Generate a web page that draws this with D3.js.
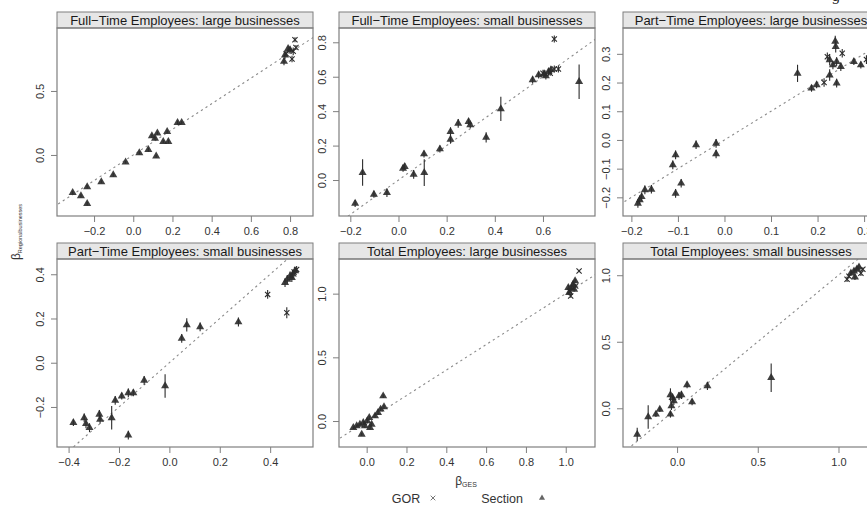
<!DOCTYPE html>
<html><head><meta charset="utf-8">
<script src="https://cdn.jsdelivr.net/npm/d3@7"></script>
<style>body{margin:0;background:#fff}svg{display:block}</style>
</head><body><svg id="c" width="867" height="505"></svg>
<script>
// ---- data: [beta_GES, beta_Regional, halfErr, type]  type S=Section, G=GOR
const panelTitles = [
  "Full\u2212Time Employees: large businesses",
  "Full\u2212Time Employees: small businesses",
  "Part\u2212Time Employees: large businesses",
  "Part\u2212Time Employees: small businesses",
  "Total Employees: large businesses",
  "Total Employees: small businesses"
];
const ftLarge = [
  [-0.309,-0.294,0.012,"S"],[-0.267,-0.32,0.012,"S"],[-0.235,-0.25,0.012,"S"],[-0.235,-0.38,0.015,"S"],
  [-0.163,-0.21,0.012,"S"],[-0.102,-0.156,0.015,"S"],[-0.039,-0.057,0.012,"S"],[0.031,0.016,0.012,"S"],
  [0.077,0.041,0.015,"S"],[0.117,-0.01,0.012,"S"],[0.095,0.148,0.015,"S"],[0.111,0.13,0.015,"S"],
  [0.123,0.17,0.012,"S"],[0.153,0.104,0.012,"S"],[0.179,0.104,0.015,"S"],[0.173,0.182,0.012,"S"],
  [0.226,0.253,0.015,"S"],[0.247,0.253,0.012,"S"],[0.774,0.78,0.03,"S"],[0.769,0.73,0.03,"S"],
  [0.80,0.82,0.025,"S"],[0.79,0.83,0.02,"S"],
  [0.816,0.81,0.03,"G"],[0.825,0.90,0.02,"G"],[0.81,0.75,0.025,"G"],[0.78,0.79,0.02,"G"],[0.83,0.84,0.02,"G"]
];
const ftSmall = [
  [-0.18,-0.136,0.02,"S"],[-0.149,0.043,0.077,"S"],[-0.102,-0.083,0.02,"S"],[-0.048,-0.074,0.025,"S"],
  [0.019,0.068,0.02,"S"],[0.026,0.077,0.02,"S"],[0.063,0.033,0.025,"S"],[0.106,0.151,0.02,"S"],
  [0.107,0.043,0.078,"S"],[0.172,0.18,0.02,"S"],[0.216,0.281,0.025,"S"],[0.216,0.236,0.025,"S"],
  [0.248,0.329,0.025,"S"],[0.291,0.339,0.02,"S"],[0.298,0.32,0.02,"S"],[0.364,0.248,0.03,"S"],
  [0.425,0.413,0.07,"S"],[0.557,0.581,0.02,"S"],[0.582,0.61,0.02,"S"],[0.605,0.616,0.02,"S"],
  [0.612,0.604,0.02,"S"],[0.623,0.629,0.02,"S"],[0.633,0.639,0.02,"S"],[0.75,0.571,0.1,"S"],
  [0.647,0.645,0.02,"G"],[0.664,0.645,0.02,"G"],[0.647,0.819,0.02,"G"],[0.6,0.62,0.02,"G"],[0.63,0.62,0.015,"G"]
];
const ptLarge = [
  [-0.186,-0.221,0.015,"S"],[-0.182,-0.209,0.015,"S"],[-0.178,-0.198,0.015,"S"],[-0.171,-0.174,0.015,"S"],
  [-0.157,-0.172,0.015,"S"],[-0.111,-0.087,0.015,"S"],[-0.105,-0.052,0.015,"S"],[-0.105,-0.186,0.015,"S"],
  [-0.093,-0.151,0.015,"S"],[-0.061,-0.017,0.015,"S"],[-0.018,-0.012,0.015,"S"],[-0.018,-0.049,0.015,"S"],
  [0.157,0.232,0.03,"S"],[0.187,0.18,0.012,"S"],[0.198,0.192,0.012,"S"],[0.226,0.226,0.02,"S"],
  [0.226,0.279,0.02,"S"],[0.238,0.343,0.02,"S"],[0.239,0.325,0.02,"S"],[0.241,0.273,0.015,"S"],
  [0.241,0.198,0.015,"S"],[0.25,0.255,0.015,"S"],[0.278,0.273,0.012,"S"],[0.293,0.261,0.012,"S"],
  [0.233,0.261,0.015,"S"],
  [0.214,0.2,0.015,"G"],[0.221,0.29,0.015,"G"],[0.253,0.302,0.015,"G"],[0.305,0.28,0.015,"G"]
];
const ptSmall = [
  [-0.381,-0.271,0.015,"S"],[-0.338,-0.249,0.02,"S"],[-0.331,-0.276,0.02,"S"],[-0.317,-0.294,0.02,"S"],
  [-0.278,-0.234,0.02,"S"],[-0.275,-0.256,0.02,"S"],[-0.229,-0.249,0.053,"S"],[-0.215,-0.17,0.02,"S"],
  [-0.189,-0.151,0.015,"S"],[-0.163,-0.136,0.02,"S"],[-0.143,-0.136,0.015,"S"],[-0.163,-0.327,0.02,"S"],
  [-0.1,-0.08,0.02,"S"],[-0.017,-0.105,0.053,"S"],[0.049,0.11,0.02,"S"],[0.069,0.171,0.03,"S"],
  [0.122,0.162,0.02,"S"],[0.274,0.184,0.02,"S"],[0.459,0.362,0.02,"S"],[0.468,0.377,0.02,"S"],
  [0.479,0.392,0.02,"S"],[0.49,0.4,0.02,"S"],[0.499,0.415,0.015,"S"],[0.486,0.385,0.02,"S"],
  [0.39,0.309,0.02,"G"],[0.466,0.226,0.025,"G"],[0.505,0.422,0.015,"G"],[0.495,0.41,0.015,"G"]
];
const totLarge = [
  [-0.067,-0.052,0.01,"S"],[-0.05,-0.039,0.01,"S"],[-0.034,-0.026,0.01,"S"],[-0.025,-0.105,0.01,"S"],
  [-0.017,-0.013,0.015,"S"],[-0.009,-0.039,0.015,"S"],[0.003,0,0.02,"S"],[0.013,0.026,0.015,"S"],
  [0.017,-0.052,0.015,"S"],[0.025,-0.026,0.015,"S"],[0.042,0.039,0.015,"S"],[0.057,0.065,0.015,"S"],
  [0.07,0.092,0.015,"S"],[0.087,0.11,0.015,"S"],[0.083,0.196,0.015,"S"],[1.017,1.008,0.02,"S"],
  [1.03,1.047,0.02,"S"],[1.037,1.073,0.02,"S"],[1.042,1.034,0.02,"S"],[1.047,1.1,0.015,"S"],[1.013,1.047,0.02,"S"],
  [1.025,0.982,0.015,"G"],[1.067,1.178,0.01,"G"],[1.05,1.06,0.015,"G"],[1.02,1.02,0.015,"G"]
];
const totSmall = [
  [-0.247,-0.196,0.05,"S"],[-0.179,-0.065,0.088,"S"],[-0.131,-0.045,0.02,"S"],[-0.107,-0.008,0.02,"S"],
  [-0.041,-0.045,0.025,"S"],[-0.035,0.017,0.03,"S"],[-0.028,0.08,0.03,"S"],[-0.041,0.1,0.05,"S"],
  [-0.02,0.055,0.03,"S"],[0.012,0.092,0.03,"S"],[0.027,0.1,0.03,"S"],[0.062,0.175,0.025,"S"],
  [0.093,0.047,0.025,"S"],[0.188,0.168,0.03,"S"],[0.583,0.23,0.107,"S"],[1.077,1.015,0.02,"S"],
  [1.096,1.03,0.02,"S"],[1.114,1.045,0.02,"S"],[1.127,1.06,0.02,"S"],[1.102,0.985,0.02,"S"],
  [1.053,0.97,0.02,"G"],[1.139,1.015,0.02,"G"],[1.065,0.992,0.015,"G"],[1.151,1.045,0.015,"G"]
];
const xDomains = [[-0.389,0.917],[-0.247,0.816],[-0.218,0.332],[-0.446,0.57],[-0.139,1.147],[-0.335,1.251]];
const yDomains = [[-0.477,0.992],[-0.209,0.883],[-0.265,0.39],[-0.381,0.469],[-0.204,1.272],[-0.291,1.122]];
const xTicks = [[-0.2,0,0.2,0.4,0.6,0.8],[-0.2,0,0.2,0.4,0.6],[-0.2,-0.1,0,0.1,0.2,0.3],[-0.4,-0.2,0,0.2,0.4],[0,0.2,0.4,0.6,0.8,1.0],[0,0.5,1.0]];
const yTicks = [[0,0.5],[0,0.2,0.4,0.6,0.8],[-0.2,-0.1,0,0.1,0.2,0.3],[-0.2,0,0.2,0.4],[0,0.5,1.0],[0,0.5,1.0]];
const legendLabels = ["GOR","Section"];

// ---- drawing
const panelData = [ftLarge, ftSmall, ptLarge, ptSmall, totLarge, totSmall];
const svg = d3.select("#c");
const colX = [57, 339, 623], rowY = [12, 243];
const W = 256, stripH = 16, H = 188;
const ink = "#2b2b2b", frame = "#7f7f7f";
const fmt = v => d3.format(".1f")(v).replace("-", "\u2212");
const defs = svg.append("defs");

panelData.forEach((data, i) => {
  const gx = colX[i % 3], gy = rowY[Math.floor(i / 3)];
  const g = svg.append("g").attr("transform", `translate(${gx},${gy})`);
  // strip
  g.append("rect").attr("x", 0).attr("y", 0).attr("width", W).attr("height", stripH)
    .attr("fill", "#e6e6e6").attr("stroke", frame).attr("stroke-width", 1);
  g.append("text").attr("x", W / 2).attr("y", stripH / 2 + 4.6).attr("text-anchor", "middle")
    .attr("font-family", "Liberation Sans, Arial, sans-serif").attr("font-size", 13).attr("fill", "#1a1a1a")
    .text(panelTitles[i]);
  const pg = g.append("g").attr("transform", `translate(0,${stripH})`);
  const x = d3.scaleLinear().domain(xDomains[i]).range([0, W]);
  const y = d3.scaleLinear().domain(yDomains[i]).range([H, 0]);
  const cid = "clip" + i;
  defs.append("clipPath").attr("id", cid).append("rect").attr("width", W).attr("height", H);
  // axes
  const xa = pg.append("g").attr("transform", `translate(0,${H})`)
    .call(d3.axisBottom(x).tickValues(xTicks[i]).tickFormat(fmt).tickSize(6).tickPadding(5));
  const ya = pg.append("g")
    .call(d3.axisLeft(y).tickValues(yTicks[i]).tickFormat(fmt).tickSize(6).tickPadding(5));
  [xa, ya].forEach(a => {
    a.select(".domain").remove();
    a.selectAll("line").attr("stroke", frame);
    a.selectAll("text").attr("font-family", "Liberation Sans, Arial, sans-serif").attr("font-size", 11).attr("fill", "#333");
  });
  ya.selectAll("text").attr("transform", "rotate(-90)").attr("text-anchor", "middle")
    .attr("x", 0).attr("y", -13).attr("dy", "0");
  const body = pg.append("g").attr("clip-path", `url(#${cid})`);
  // reference line y = x
  const lo = Math.min(xDomains[i][0], yDomains[i][0]), hi = Math.max(xDomains[i][1], yDomains[i][1]);
  body.append("line").attr("x1", x(lo)).attr("y1", y(lo)).attr("x2", x(hi)).attr("y2", y(hi))
    .attr("stroke", "#8a8a8a").attr("stroke-width", 1.1).attr("stroke-dasharray", "2.2,3.3");
  // error bars
  body.selectAll("line.err").data(data).join("line").attr("class", "err")
    .attr("x1", d => x(d[0])).attr("x2", d => x(d[0]))
    .attr("y1", d => y(d[1] - d[2])).attr("y2", d => y(d[1] + d[2]))
    .attr("stroke", ink).attr("stroke-width", 1.1);
  // triangles
  body.selectAll("path.sec").data(data.filter(d => d[3] === "S")).join("path").attr("class", "sec")
    .attr("d", d3.symbol(d3.symbolTriangle, 28))
    .attr("transform", d => `translate(${x(d[0])},${y(d[1])})`)
    .attr("fill", ink).attr("fill-opacity", 0.9);
  // crosses
  const cr = body.selectAll("g.gor").data(data.filter(d => d[3] === "G")).join("g").attr("class", "gor")
    .attr("transform", d => `translate(${x(d[0])},${y(d[1])})`);
  cr.append("path").attr("d", "M-2.6,-2.6L2.6,2.6M-2.6,2.6L2.6,-2.6").attr("stroke", ink).attr("stroke-width", 1.1);
  // frame
  pg.append("rect").attr("width", W).attr("height", H).attr("fill", "none").attr("stroke", frame).attr("stroke-width", 1.2);
});

// axis titles
const xt = svg.append("text").attr("x", 466).attr("y", 485).attr("text-anchor", "middle")
  .attr("font-family", "Liberation Sans, Arial, sans-serif").attr("fill", "#333");
xt.append("tspan").attr("font-size", 12).text("\u03b2");
xt.append("tspan").attr("font-size", 7).attr("dy", 2).text("GES");
const yt = svg.append("text").attr("transform", "translate(20,232) rotate(-90)").attr("text-anchor", "middle")
  .attr("font-family", "Liberation Sans, Arial, sans-serif").attr("fill", "#333");
yt.append("tspan").attr("font-size", 12).text("\u03b2");
yt.append("tspan").attr("font-size", 5.5).attr("dy", 2).text("Regionalbusinesses");

// legend
const lg = svg.append("g").attr("font-family", "Liberation Sans, Arial, sans-serif").attr("font-size", 12.5).attr("fill", "#333");
lg.append("text").attr("x", 406).attr("y", 503).attr("text-anchor", "middle").text(legendLabels[0]);
lg.append("path").attr("transform", "translate(433,498)").attr("d", "M-2.3,-2.3L2.3,2.3M-2.3,2.3L2.3,-2.3").attr("stroke", "#777").attr("stroke-width", 1);
lg.append("text").attr("x", 502).attr("y", 503).attr("text-anchor", "middle").text(legendLabels[1]);
lg.append("path").attr("transform", "translate(542,498)").attr("d", d3.symbol(d3.symbolTriangle, 16)).attr("fill", "#666");

// cropped heading remnant at top right
svg.append("text").attr("x", 836).attr("y", 1).attr("text-anchor", "middle").attr("font-family", "DejaVu Serif, serif").attr("font-size", 14).attr("fill", "#222").text("g");
</script></body></html>
